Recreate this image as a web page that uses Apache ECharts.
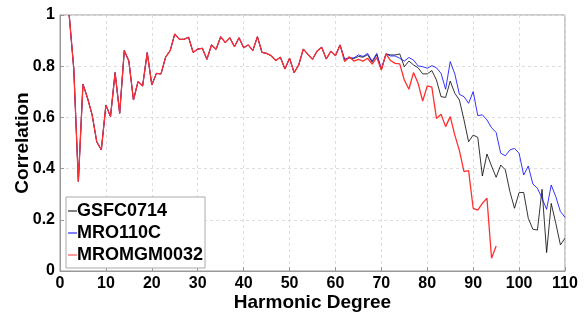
<!DOCTYPE html>
<html lang="en">
<head>
    <meta charset="UTF-8">
    <title>Correlation vs Harmonic Degree</title>
    <style>
        html, body { margin: 0; padding: 0; background: #fff; }
    </style>
</head>
<body>
<div id="main" style="width: 587px;height:312px;"></div>
<script src="https://cdn.jsdelivr.net/npm/echarts@6/dist/echarts.min.js"></script>
<script>
    // degrees 2..61, the three models overlap here
    var shared = [1.0, 0.79, 0.35, 0.73, 0.675, 0.61, 0.505, 0.473, 0.648, 0.603,
        0.775, 0.616, 0.861, 0.82, 0.668, 0.74, 0.723, 0.853, 0.727, 0.772,
        0.77, 0.835, 0.861, 0.926, 0.905, 0.905, 0.913, 0.854, 0.867, 0.870,
        0.827, 0.883, 0.866, 0.915, 0.892, 0.911, 0.876, 0.911, 0.872, 0.883,
        0.861, 0.915, 0.854, 0.850, 0.841, 0.822, 0.835, 0.789, 0.831, 0.775,
        0.805, 0.867, 0.846, 0.827, 0.859, 0.874, 0.828, 0.859, 0.841, 0.883];

    // degrees 62..110
    var gsfcTail = [0.823, 0.832, 0.83, 0.838, 0.835, 0.845, 0.815, 0.845, 0.785, 0.848,
        0.844, 0.844, 0.848, 0.798, 0.820, 0.805, 0.794, 0.770, 0.770, 0.783,
        0.746, 0.681, 0.678, 0.742, 0.694, 0.668, 0.590, 0.505, 0.531, 0.522,
        0.371, 0.457, 0.410, 0.366, 0.414, 0.395, 0.310, 0.245, 0.306, 0.307,
        0.206, 0.163, 0.160, 0.319, 0.072, 0.264, 0.186, 0.102, 0.128];

    var mroTail = [0.828, 0.833, 0.832, 0.844, 0.838, 0.850, 0.82, 0.850, 0.79, 0.848,
        0.840, 0.840, 0.831, 0.820, 0.834, 0.824, 0.801, 0.798, 0.792, 0.802,
        0.794, 0.772, 0.710, 0.818, 0.770, 0.690, 0.681, 0.655, 0.701, 0.607,
        0.610, 0.590, 0.560, 0.541, 0.460, 0.450, 0.473, 0.479, 0.460, 0.375,
        0.410, 0.340, 0.323, 0.284, 0.241, 0.336, 0.290, 0.232, 0.210];

    // degrees 62..95
    var mgmTail = [0.818, 0.837, 0.82, 0.827, 0.82, 0.831, 0.808, 0.834, 0.785, 0.848,
        0.822, 0.811, 0.809, 0.746, 0.710, 0.775, 0.733, 0.664, 0.723, 0.718,
        0.596, 0.612, 0.564, 0.603, 0.531, 0.47, 0.388, 0.392, 0.245, 0.238,
        0.264, 0.284, 0.050, 0.098];

    var names = ['GSFC0714', 'MRO110C', 'MROMGM0032'];
    var colors = ['#000000', '#0000ff', '#ff3030'];
    var firstDegree = 2;

    function pairs(vals) {
        return vals.map(function (v, i) { return [firstDegree + i, v]; });
    }

    var font = '"Liberation Sans", Arial, Helvetica, sans-serif';
    var myChart = echarts.init(document.getElementById('main'));

    function lineSeries(idx, vals, width) {
        return {
            name: names[idx],
            type: 'line',
            symbol: 'none',
            z: 2 + idx,
            itemStyle: { color: colors[idx] },
            lineStyle: { width: width, color: colors[idx] },
            data: pairs(vals)
        };
    }

    var option = {
        animation: false,
        color: colors,
        grid: {
            left: 60,
            right: 22,
            top: 15,
            bottom: 41,
            outerBoundsMode: 'none',
            containLabel: false,
            show: true,
            borderColor: '#999',
            borderWidth: 1
        },
        legend: {
            orient: 'vertical',
            left: 66,
            top: 197,
            data: names,
            icon: 'rect',
            itemWidth: 9,
            itemHeight: 1,
            itemGap: 4,
            padding: [5, 2, 4, 2],
            backgroundColor: '#fff',
            borderColor: '#aaa',
            borderWidth: 1,
            borderRadius: 0,
            textStyle: {
                fontFamily: font,
                fontWeight: 'bold',
                fontSize: 18,
                color: '#000',
                padding: [0, 0, 0, -5]
            }
        },
        xAxis: {
            type: 'value',
            min: 0,
            max: 110,
            interval: 10,
            name: 'Harmonic Degree',
            nameLocation: 'middle',
            nameGap: 22,
            nameMoveOverlap: false,
            nameTextStyle: { fontFamily: font, fontWeight: 'bold', fontSize: 19, color: '#000' },
            axisLine: { show: true, lineStyle: { color: '#999' } },
            axisTick: { show: true, inside: true, length: 4, lineStyle: { color: '#999' } },
            axisLabel: { fontFamily: font, fontWeight: 'bold', fontSize: 16, color: '#000', margin: 5 },
            splitLine: { show: true, lineStyle: { color: '#dedede', type: [3, 3] } }
        },
        yAxis: {
            type: 'value',
            min: 0,
            max: 1,
            interval: 0.2,
            name: 'Correlation',
            nameLocation: 'middle',
            nameGap: 28,
            nameMoveOverlap: false,
            nameTextStyle: { fontFamily: font, fontWeight: 'bold', fontSize: 19, color: '#000' },
            axisLine: { show: true, lineStyle: { color: '#999' } },
            axisTick: { show: true, inside: true, length: 4, lineStyle: { color: '#999' } },
            axisLabel: { fontFamily: font, fontWeight: 'bold', fontSize: 16, color: '#000', margin: 5 },
            splitLine: { show: true, lineStyle: { color: '#dedede', type: [3, 3] } }
        },
        series: [
            lineSeries(0, shared.concat(gsfcTail), 0.8),
            lineSeries(1, shared.concat(mroTail), 0.8),
            lineSeries(2, shared.concat(mgmTail), 1.3)
        ]
    };

    myChart.setOption(option);
</script>
</body>
</html>
